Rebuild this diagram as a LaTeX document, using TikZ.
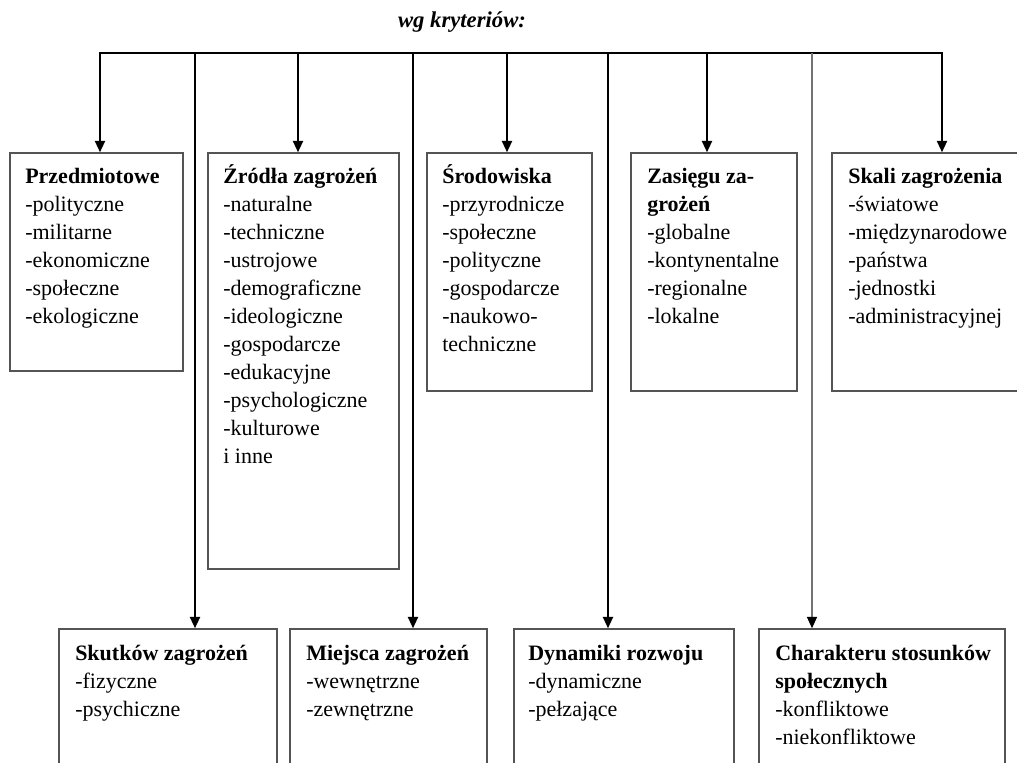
\documentclass[tikz,border=0pt]{standalone}
\usepackage{fontspec}
\setmainfont{Liberation Serif}
\usetikzlibrary{arrows.meta,fit}
\definecolor{boxgray}{gray}{0.33}
\definecolor{linegray}{gray}{0.45}
\begin{document}
\begin{tikzpicture}[x=0.75pt,y=-0.75pt,
  box/.style={draw=boxgray, line width=1.1pt, inner sep=0pt},
  txt/.style={anchor=north west, inner sep=0pt, align=left, font=\fontsize{16.5}{21}\selectfont},
  hline/.style={line width=1.5pt, line cap=rect},
  arr/.style={line width=1.5pt, -{Triangle[width=7.5pt,length=8.5pt]}},
  thinarr/.style={draw=linegray, line width=1pt, -{Triangle[width=7.5pt,length=8.5pt,color=black]}}
]
\useasboundingbox (0,0) rectangle (1017,763);
\clip (0,0) rectangle (1017,763);
\fill[white] (0,0) rectangle (1017,763);

% title
\node[font=\fontsize{17}{20}\selectfont\bfseries\itshape, anchor=base, inner sep=0pt] (title) at (462,28) {wg kryteriów:};

% branch points on the horizontal line
\coordinate (t1) at (100,53);
\coordinate (t2) at (195,53);
\coordinate (t3) at (298,53);
\coordinate (t4) at (413,53);
\coordinate (t5) at (507,53);
\coordinate (t6) at (608,53);
\coordinate (t7) at (707,53);
\coordinate (t8) at (812,53);
\coordinate (t9) at (942,53);

% top row boxes
\node[box, fit={(10,153) (183,371)}] (b1) {};
\node[box, fit={(208,153) (399,569)}] (b2) {};
\node[box, fit={(427,153) (592,391)}] (b3) {};
\node[box, fit={(631,153) (797,391)}] (b4) {};
\node[box, fit={(832,153) (1030,391)}] (b5) {};

% bottom row boxes
\node[box, fit={(59,629) (277,790)}] (c1) {};
\node[box, fit={(290,629) (487,790)}] (c2) {};
\node[box, fit={(514,629) (734,790)}] (c3) {};
\node[box, fit={(759,629) (1005,790)}] (c4) {};

% texts top row
\node[txt] (p1) at (25,163.4) {\strut\textbf{Przedmiotowe}\\-polityczne\\-militarne\\-ekonomiczne\\-społeczne\\-ekologiczne};
\node[txt] (p2) at (223,163.4) {\strut\textbf{Źródła zagrożeń}\\-naturalne\\-techniczne\\-ustrojowe\\-demograficzne\\-ideologiczne\\-gospodarcze\\-edukacyjne\\-psychologiczne\\-kulturowe\\i inne};
\node[txt] (p3) at (442,163.4) {\strut\textbf{Środowiska}\\-przyrodnicze\\-społeczne\\-polityczne\\-gospodarcze\\-naukowo-\\techniczne};
\node[txt] (p4) at (647,163.4) {\strut\textbf{Zasięgu za-}\\\textbf{grożeń}\\-globalne\\-kontynentalne\\-regionalne\\-lokalne};
\node[txt] (p5) at (848,163.4) {\strut\textbf{Skali zagrożenia}\\-światowe\\-międzynarodowe\\-państwa\\-jednostki\\-administracyjnej};

% texts bottom row
\node[txt] (q1) at (75,640.4) {\strut\textbf{Skutków zagrożeń}\\-fizyczne\\-psychiczne};
\node[txt] (q2) at (306,640.4) {\strut\textbf{Miejsca zagrożeń}\\-wewnętrzne\\-zewnętrzne};
\node[txt] (q3) at (528,640.4) {\strut\textbf{Dynamiki rozwoju}\\-dynamiczne\\-pełzające};
\node[txt] (q4) at (775,640.4) {\strut\textbf{Charakteru stosunków}\\\textbf{społecznych}\\-konfliktowe\\-niekonfliktowe};

% connectors
\draw[hline] (t1) -- (t9);
\draw[arr] (t1) -- (t1 |- b1.north);
\draw[arr] (t3) -- (t3 |- b2.north);
\draw[arr] (t5) -- (t5 |- b3.north);
\draw[arr] (t7) -- (t7 |- b4.north);
\draw[arr] (t9) -- (t9 |- b5.north);
\draw[arr] (t2) -- (t2 |- c1.north);
\draw[arr] (t4) -- (t4 |- c2.north);
\draw[arr] (t6) -- (t6 |- c3.north);
\draw[thinarr] (t8) -- (t8 |- c4.north);
\end{tikzpicture}
\end{document}
